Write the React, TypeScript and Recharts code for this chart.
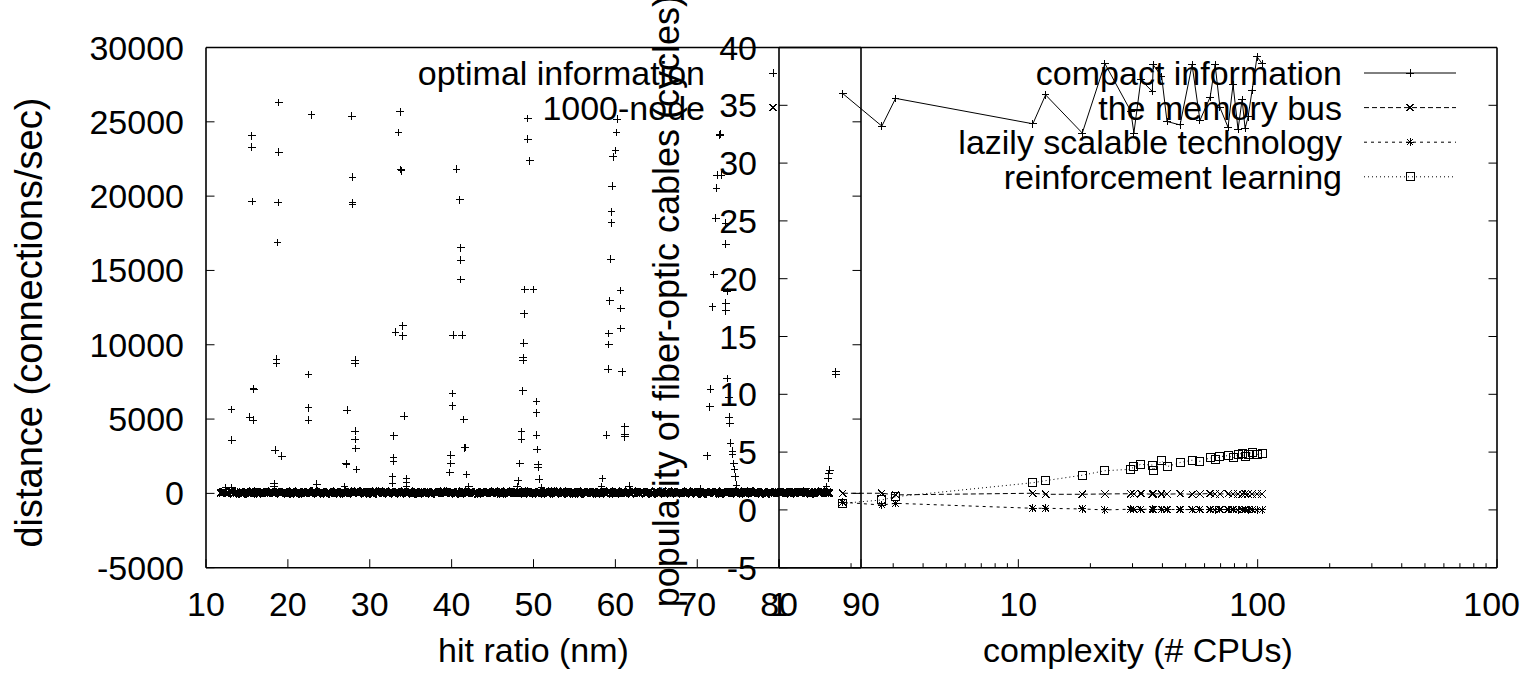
import React from 'react';
import { ComposedChart, Scatter, Line, XAxis, YAxis, Legend, Label } from 'recharts';

const W = 1522;
const H = 675;
const FONT = '"Liberation Sans", Arial, Helvetica, sans-serif';
const FS = 34;

// ---------- left plot data ----------
const leftSeriesNames = ['optimal information', '1000-node'];
const leftXLabel = 'hit ratio (nm)';
const leftYLabel = 'distance (connections/sec)';
const leftXTicks = [10, 20, 30, 40, 50, 60, 70, 80, 90];
const leftYTicks = [-5000, 0, 5000, 10000, 15000, 20000, 25000, 30000];

const optX = [
  18.9, 22.9, 27.8, 33.7, 15.6, 15.6, 18.9, 33.5, 33.8, 33.9, 27.9, 15.65, 18.8, 27.9, 27.9, 18.75,
  34.05, 33.16, 34.05, 18.6, 18.6, 28.2, 28.2, 22.54, 15.78, 15.85, 13.1, 15.34, 15.82, 22.5, 22.5,
  27.25, 34.2, 13.14, 28.23, 28.23, 28.3, 32.95, 18.46, 19.28, 27.1, 27.15, 28.4, 32.9, 32.9, 32.8,
  32.8, 34.5, 34.5, 34.5, 18.34, 18.34, 23.55, 12.44, 13.17, 26.93,
  40.6, 41.0, 41.13, 41.13, 41.13, 40.2, 41.3, 40.12, 40.12, 41.5, 41.62, 41.66, 39.91, 39.91, 39.79,
  41.83, 42.1, 49.3, 49.3, 49.56, 48.95, 50.0, 48.86, 48.83, 48.74, 48.74, 48.7, 50.38, 50.38, 48.55,
  48.55, 50.38, 50.45, 48.34, 50.57, 50.57, 50.7, 48.13, 48.0, 51.0,
  60.2, 60.15, 60.02, 59.73, 59.61, 59.54, 59.54, 59.45, 60.63, 59.33, 60.67, 60.67, 59.21, 59.21,
  59.12, 60.83, 58.93, 61.16, 61.16, 61.16, 58.44, 58.32, 61.68,
  72.76, 72.8, 72.43, 72.97, 72.36, 72.27, 73.49, 73.49, 72.03, 73.65, 71.87, 73.49, 73.49, 71.62,
  73.65, 73.9, 71.54, 73.9, 73.98, 71.21, 74.06, 74.31, 74.31, 74.47, 74.55, 74.63, 74.8, 70.4,
  85.79, 85.98, 86.07, 86.2, 86.92, 86.92,
];
const optY = [
  26300, 25460, 25390, 25680, 24050, 23290, 22950, 24270, 21800, 21700, 21270, 19630, 19580, 19560, 19450, 16870,
  11280, 10840, 10590, 9040, 8750, 8970, 8750, 8010, 7070, 7000, 5650, 5120, 4930, 5760, 4930,
  5610, 5200, 3590, 4190, 3630, 3030, 3880, 2910, 2510, 2020, 1950, 1620, 2420, 2170, 1120,
  670, 1010, 710, 490, 670, 440, 630, 380, 380, 440,
  21810, 19740, 16530, 15700, 14400, 10650, 10650, 6730, 5880, 4980, 3070, 3100, 2580, 2020, 1410,
  1280, 440, 25210, 23840, 22380, 13730, 13730, 12070, 10100, 9130, 8970, 6890, 6170, 5420, 4150,
  3650, 3920, 2960, 2020, 1910, 1750, 960, 850, 440, 380,
  25170, 24270, 23060, 22650, 20680, 18950, 18210, 15750, 13640, 12960, 12450, 11100, 10770, 10030,
  8350, 8180, 3920, 4480, 3990, 3810, 1010, 440, 490,
  24110, 24160, 21420, 21420, 20530, 18510, 18190, 16760, 14740, 13570, 12560, 12790, 12290, 7020,
  7740, 6460, 5830, 5120, 4710, 2530, 3370, 2850, 2630, 2020, 1620, 1120, 560, 340,
  440, 1010, 1350, 1570, 8180, 8030,
];

const nodeX = [
  11.8, 12.2, 12.5, 13.0, 13.4, 13.7, 14.2, 14.6, 15.0, 15.5, 15.8, 16.3, 16.7, 17.1, 17.6, 18.0, 18.4, 18.9, 19.2, 19.7,
  20.1, 20.6, 21.0, 21.4, 21.9, 22.2, 22.7, 23.1, 23.6, 24.0, 24.4, 24.9, 25.2, 25.7, 26.1, 26.6, 27.0, 27.4, 27.9, 28.2,
  28.7, 29.1, 29.6, 30.0, 30.4, 30.9, 31.2, 31.7, 32.1, 32.6, 33.0, 33.4, 33.9, 34.2, 34.7, 35.1, 35.6, 36.0, 36.4, 36.9,
  37.2, 37.7, 38.1, 38.6, 39.0, 39.4, 39.9, 40.2, 40.7, 41.1, 41.6, 42.0, 42.4, 42.9, 43.2, 43.7, 44.1, 44.6, 45.0, 45.4,
  45.9, 46.2, 46.7, 47.1, 47.6, 48.0, 48.4, 48.9, 49.2, 49.7, 50.1, 50.6, 51.0, 51.4, 51.9, 52.2, 52.7, 53.1, 53.6, 54.0,
  54.4, 54.9, 55.2, 55.7, 56.1, 56.6, 57.0, 57.4, 57.9, 58.2, 58.7, 59.1, 59.6, 60.0, 60.4, 60.9, 61.2, 61.7, 62.1, 62.6,
  63.0, 63.4, 63.9, 64.2, 64.7, 65.1, 65.6, 66.0, 66.4, 66.9, 67.2, 67.7, 68.1, 68.6, 69.0, 69.4, 69.9, 70.2, 70.7, 71.1,
  71.6, 72.0, 72.4, 72.9, 73.2, 73.7, 74.1, 74.6, 75.0, 75.4, 75.9, 76.2, 76.7, 77.1, 77.6, 78.0, 78.4, 78.9, 79.2, 79.7,
  80.1, 80.6, 81.0, 81.4, 81.9, 82.2, 82.7, 83.1, 83.6, 84.0, 84.4, 84.9, 85.2, 85.7, 86.1,
  12.0, 12.7, 13.2, 13.9, 14.4, 14.8, 15.3, 15.6, 16.0, 16.5, 16.9, 17.4, 17.8, 18.2, 18.7, 19.0, 19.5, 19.9, 20.3, 20.8,
  21.2, 21.7, 22.0, 22.5, 22.9, 23.3, 23.8, 24.2, 24.7, 25.0, 25.5, 25.9, 26.3, 26.8, 27.2, 27.7, 28.0, 28.5, 28.9, 29.3,
  29.8, 30.2, 30.7, 31.0, 31.5, 31.9, 32.3, 32.8, 33.2, 33.7, 34.0, 34.5, 34.9, 35.3, 35.8, 36.2, 36.7, 37.0, 37.5, 37.9,
  38.3, 38.8, 39.2, 39.7, 40.0, 40.5, 40.9, 41.3, 41.8, 42.2, 42.7, 43.0, 43.5, 43.9, 44.3, 44.8, 45.2, 45.7, 46.0, 46.5,
  46.9, 47.3, 47.8, 48.2, 48.7, 49.0, 49.5, 49.9, 50.3, 50.8, 51.2, 51.7, 52.0, 52.5, 52.9, 53.3, 53.8, 54.2, 54.7, 55.0,
  55.5, 55.9, 56.3, 56.8, 57.2, 57.7, 58.0, 58.5, 58.9, 59.3, 59.8, 60.2, 60.7, 61.0, 61.5, 61.9, 62.3, 62.8, 63.2, 63.7,
  64.0, 64.5, 64.9, 65.3, 65.8, 66.2, 66.7, 67.0, 67.5, 67.9, 68.3, 68.8, 69.2, 69.7, 70.0, 70.5, 70.9, 71.3, 71.8, 72.2,
  72.7, 73.0, 73.5, 73.9, 74.3, 74.8, 75.2, 75.7, 76.0, 76.5, 76.9, 77.3, 77.8, 78.2, 78.7, 79.0, 79.5, 79.9, 80.3, 80.8,
  81.2, 81.7, 82.0, 82.5, 82.9, 83.3, 83.8, 84.2, 84.7, 85.0, 85.5, 85.9,
];
const nodeY = [
  40, 85, 12, 110, -20, 60, 95, 5, 130, 30, 70, -35, 100, 45, 15, 120, -10, 75, 55, 90,
  20, 135, -25, 65, 105, 0, 50, 115, -30, 80, 35, 125, 10, 60, -15, 95, 40, 140, 25, 70,
  -5, 110, 55, 85, -40, 30, 120, 65, 15, 100, -20, 75, 45, 130, 5, 90, 35, -30, 115, 60,
  25, 95, -10, 70, 135, 40, 0, 105, 55, -25, 85, 20, 125, 65, -35, 110, 30, 75, 10, 100,
  50, -15, 120, 35, 90, -5, 70, 130, 15, 60, 105, -30, 45, 85, 25, 115, -20, 65, 140, 40,
  5, 95, 55, -35, 110, 30, 75, 125, -10, 60, 20, 100, 45, -25, 85, 135, 10, 70, 115, 35,
  -15, 90, 50, 130, 0, 65, 105, -30, 40, 80, 120, 15, 55, -5, 95, 70, 25, 110, -40, 60,
  85, 30, 125, -20, 75, 45, 100, 10, 135, 55, -10, 90, 35, 115, 20, 65, -35, 105, 50, 80,
  0, 120, 40, -25, 95, 60, 15, 110, 70, -5, 85, 30, 130, 45, 20,
  70, 10, 115, 50, -30, 90, 25, 135, 60, -10, 105, 35, 80, 0, 125, 45, 95, -25, 65, 20,
  110, 55, -5, 85, 30, 140, 15, 75, -40, 100, 50, 120, -15, 70, 30, 95, 5, 130, 60, -20,
  85, 40, 115, 10, 70, 135, -30, 55, 100, 25, 80, -10, 125, 45, 0, 90, 60, 110, -35, 75,
  35, 120, 15, 65, 100, -20, 50, 130, 5, 80, 40, 115, -5, 70, 95, 20, 140, 55, -30, 85,
  10, 105, 45, 0, 125, 65, -15, 90, 30, 110, 75, -40, 55, 135, 15, 95, 40, -25, 120, 60,
  -10, 85, 25, 115, 50, 0, 100, 70, -30, 130, 35, 90, 10, 60, 120, -20, 80, 45, 105, 5,
  65, -35, 95, 30, 140, 55, 15, 110, -15, 75, 40, 125, 0, 90, 60, -25, 100, 20, 130, 50,
  -5, 85, 35, 115, 70, -40, 95, 10, 60, 135, 25, 80, -20, 105, 45, 0, 120, 65, 30, 90,
  -10, 110, 55, 15, 75, 130, -30, 40, 95, 5, 85, 60,
];

// ---------- right plot data ----------
const rightSeriesNames = ['compact information', 'the memory bus', 'lazily scalable technology', 'reinforcement learning'];
const rightXLabel = 'complexity (# CPUs)';
const rightYLabel = 'popularity of fiber-optic cables (cycles)';
const rightYTicks = [-5, 0, 5, 10, 15, 20, 25, 30, 35, 40];
const rightXMajor = [1, 10, 100, 1000];
const rightXMajorLabels = ['1', '10', '100', '100'];
const rightXMinor = [2, 3, 4, 5, 6, 7, 8, 9, 20, 30, 40, 50, 60, 70, 80, 90, 200, 300, 400, 500, 600, 700, 800, 900];

const cpuX = [1.85, 2.69, 3.07, 11.5, 13.0, 18.5, 23.0, 29.5, 30.4, 32.5, 36.3, 36.6, 39.7, 41.8, 47.4, 53.2, 57.4, 63.3, 66.4, 69.6, 75.2, 78.9, 82.8, 86.1, 88.6, 91.2, 94.8, 99.4, 104.3];
const compactY = [36.0, 33.2, 35.6, 33.4, 35.9, 32.6, 38.6, 34.5, 32.6, 37.2, 36.2, 38.5, 37.5, 33.6, 33.3, 38.5, 33.7, 35.7, 38.5, 34.8, 33.1, 36.8, 32.9, 35.5, 33.0, 34.0, 36.3, 39.2, 38.6];
const busY = [1.44, 1.44, 1.3, 1.44, 1.35, 1.35, 1.38, 1.4, 1.38, 1.42, 1.35, 1.4, 1.38, 1.36, 1.4, 1.35, 1.38, 1.42, 1.36, 1.38, 1.4, 1.36, 1.38, 1.35, 1.4, 1.37, 1.38, 1.36, 1.38];
const lazyY = [0.66, 0.42, 0.57, 0.14, 0.14, 0.08, 0.0, 0.06, 0.05, 0.04, 0.06, 0.02, 0.05, 0.03, 0.04, 0.02, 0.05, 0.03, 0.0, 0.04, 0.02, 0.03, 0.0, 0.02, 0.04, 0.01, 0.02, 0.0, 0.01];
const rlY = [0.57, 0.86, 1.14, 2.35, 2.53, 3.0, 3.39, 3.51, 3.74, 3.94, 3.88, 3.45, 4.26, 3.74, 4.1, 4.3, 4.2, 4.5, 4.4, 4.6, 4.7, 4.5, 4.8, 4.9, 4.6, 4.8, 5.0, 4.8, 4.9];

// ---------- built tables ----------
const optData = optX.map((x, i) => ({ x, y: optY[i] }));
const nodeData = nodeX.map((x, i) => ({ x, y: nodeY[i] }));
const rightData = cpuX.map((x, i) => ({ x, compact: compactY[i], bus: busY[i], lazy: lazyY[i], rl: rlY[i] }));

// ---------- layout ----------
const PLOT_TOP = 47.5;
const PLOT_BOTTOM = 567.7;
const L_LEFT = 206;
const L_RIGHT = 861;
const R_LEFT = 779;
const R_RIGHT = 1497;
const MAJOR = 8.5;
const MINOR = 4.5;
const BORDER = { stroke: '#000', strokeWidth: 1.6 };

// ---------- markers ----------
type M = { cx: number; cy: number; sw?: number };
const PlusMark = ({ cx, cy, sw = 1 }: M) => (
  <path d={`M${cx - 3.8},${cy}H${cx + 3.8}M${cx},${cy - 3.8}V${cy + 3.8}`} stroke="#000" strokeWidth={sw} fill="none" shapeRendering="crispEdges" />
);
const CrossMark = ({ cx, cy, sw = 1 }: M) => (
  <path d={`M${cx - 3.6},${cy - 3.6}L${cx + 3.6},${cy + 3.6}M${cx - 3.6},${cy + 3.6}L${cx + 3.6},${cy - 3.6}`} stroke="#000" strokeWidth={sw} fill="none" shapeRendering="crispEdges" />
);
const StarMark = ({ cx, cy, sw = 1 }: M) => (
  <path d={`M${cx - 3.8},${cy}H${cx + 3.8}M${cx},${cy - 3.8}V${cy + 3.8}M${cx - 3.4},${cy - 3.4}L${cx + 3.4},${cy + 3.4}M${cx - 3.4},${cy + 3.4}L${cx + 3.4},${cy - 3.4}`} stroke="#000" strokeWidth={sw} fill="none" shapeRendering="crispEdges" />
);
const SquareMark = ({ cx, cy, sw = 1 }: M) => (
  <rect x={cx - 4} y={cy - 4} width={8} height={8} stroke="#000" strokeWidth={sw} fill="none" shapeRendering="crispEdges" />
);
const markerFor: Record<string, (p: M) => React.ReactElement> = {
  'optimal information': PlusMark,
  '1000-node': CrossMark,
  'compact information': PlusMark,
  'the memory bus': CrossMark,
  'lazily scalable technology': StarMark,
  'reinforcement learning': SquareMark,
};
const dashFor: Record<string, string | undefined> = {
  'compact information': undefined,
  'the memory bus': '5 3',
  'lazily scalable technology': '3 4',
  'reinforcement learning': '1 3',
};

// ---------- ticks ----------
const makeXTick = (side: 'top' | 'bottom', labelOf: (v: number) => string | null, isMinor: (v: number) => boolean) =>
  (props: any) => {
    const { x, y, payload, index } = props;
    const v = payload.value;
    const minor = isMinor(v);
    const len = minor ? MINOR : MAJOR;
    const dir = side === 'bottom' ? -1 : 1;
    const lab = side === 'bottom' && !minor ? labelOf(v) : null;
    let tx = x;
    let anchor: 'middle' | 'end' = 'middle';
    if (lab) {
      const half = (lab.length * 0.556 * FS) / 2;
      if (x + half > W - 2) {
        tx = W - 2;
        anchor = 'end';
      }
    }
    return (
      <g key={`xt-${side}-${index}`}>
        <line x1={x} y1={y} x2={x} y2={y + dir * len} stroke="#000" strokeWidth={1} />
        {lab !== null && (
          <text x={tx} y={y + 48} textAnchor={anchor} fontFamily={FONT} fontSize={FS} fill="#000">
            {lab}
          </text>
        )}
      </g>
    );
  };

const makeYTick = (side: 'left' | 'right', showLabel: boolean) => (props: any) => {
  const { x, y, payload, index } = props;
  const dir = side === 'left' ? 1 : -1;
  return (
    <g key={`yt-${side}-${index}`}>
      <line x1={x} y1={y} x2={x + dir * MAJOR} y2={y} stroke="#000" strokeWidth={1} />
      {showLabel && (
        <text x={x - 22} y={y + 12} textAnchor="end" fontFamily={FONT} fontSize={FS} fill="#000">
          {String(payload.value)}
        </text>
      )}
    </g>
  );
};

const xLabelContent = (text: string) => (props: any) => {
  const vb = props.viewBox || {};
  return (
    <text x={vb.x + vb.width / 2} y={vb.y + 94.5} textAnchor="middle" fontFamily={FONT} fontSize={FS} fill="#000">
      {text}
    </text>
  );
};
// rotated axis title; dy shifts it from the axis' vertical centre
const yLabelContent = (text: string, cx: number, dy: number, fs: number) => (props: any) => {
  const vb = props.viewBox || {};
  const cy = vb.y + vb.height / 2 + dy;
  return (
    <text
      x={cx}
      y={cy}
      transform={`rotate(-90, ${cx}, ${cy})`}
      textAnchor="middle"
      dominantBaseline="central"
      fontFamily={FONT}
      fontSize={fs}
      fill="#000"
    >
      {text}
    </text>
  );
};

// ---------- legends ----------
const LEG_ROW0 = 73;
const LEG_STEP = 34.6;
const makeLegend = (order: string[], textRight: number, sampleX0: number, sampleX1: number, withLine: boolean) => (props: any) => {
  const payload: any[] = [...(props.payload || [])].sort(
    (a, b) => order.indexOf(String(a.value)) - order.indexOf(String(b.value)),
  );
  const mid = (sampleX0 + sampleX1) / 2;
  return (
    <svg width={W} height={H} style={{ display: 'block', overflow: 'visible' }}>
      {payload.map((p, i) => {
        const name = String(p.value);
        const cy = LEG_ROW0 + i * LEG_STEP;
        const Mk = markerFor[name] || PlusMark;
        return (
          <g key={name}>
            <text x={textRight} y={cy} textAnchor="end" dominantBaseline="central" fontFamily={FONT} fontSize={FS} fill="#000">
              {name}
            </text>
            {withLine && (
              <line x1={sampleX0} y1={cy} x2={sampleX1} y2={cy} stroke="#000" strokeWidth={1} strokeDasharray={dashFor[name]} />
            )}
            <Mk cx={mid} cy={cy} />
          </g>
        );
      })}
    </svg>
  );
};

const legendWrap = { left: 0, top: 0, width: W, height: H, pointerEvents: 'none' as const };

export default function App() {
  const leftLabelOf = (v: number) => String(v);
  const rightLabelOf = (v: number) => {
    const i = rightXMajor.indexOf(v);
    return i >= 0 ? rightXMajorLabels[i] : null;
  };
  const rightMinorSet = new Set(rightXMinor);
  const rightAllTicks = [...rightXMajor, ...rightXMinor].sort((a, b) => a - b);

  return (
    <div style={{ position: 'absolute', left: 0, top: 0, width: W, height: H, background: '#fff', overflow: 'hidden' }}>
      {/* left plot */}
      <div style={{ position: 'absolute', left: 0, top: 0 }}>
        <ComposedChart width={W} height={H} margin={{ top: 0, right: 0, bottom: 0, left: 0 }}>
          <XAxis
            xAxisId="lb"
            type="number"
            dataKey="x"
            domain={[10, 90]}
            ticks={leftXTicks}
            interval={0}
            orientation="bottom"
            height={H - PLOT_BOTTOM}
            tickSize={0}
            tickMargin={0}
            tickLine={false}
            axisLine={BORDER}
            allowDataOverflow
            tick={makeXTick('bottom', leftLabelOf, () => false)}
          >
            <Label content={xLabelContent(leftXLabel)} />
          </XAxis>
          <XAxis
            xAxisId="lt"
            type="number"
            domain={[10, 90]}
            ticks={leftXTicks}
            interval={0}
            orientation="top"
            height={PLOT_TOP}
            tickSize={0}
            tickMargin={0}
            tickLine={false}
            axisLine={BORDER}
            allowDataOverflow
            tick={makeXTick('top', leftLabelOf, () => false)}
          />
          <YAxis
            yAxisId="ll"
            type="number"
            dataKey="y"
            domain={[-5000, 30000]}
            ticks={leftYTicks}
            interval={0}
            orientation="left"
            width={L_LEFT}
            tickSize={0}
            tickMargin={0}
            tickLine={false}
            axisLine={BORDER}
            allowDataOverflow
            tick={makeYTick('left', true)}
          >
            <Label content={yLabelContent(leftYLabel, 29, 15, 38)} />
          </YAxis>
          <YAxis
            yAxisId="lr"
            type="number"
            domain={[-5000, 30000]}
            ticks={leftYTicks}
            interval={0}
            orientation="right"
            width={W - L_RIGHT}
            tickSize={0}
            tickMargin={0}
            tickLine={false}
            axisLine={BORDER}
            allowDataOverflow
            tick={makeYTick('right', false)}
          />
          <Scatter
            name={leftSeriesNames[0]}
            data={optData}
            xAxisId="lb"
            yAxisId="ll"
            isAnimationActive={false}
            shape={(p: any) => <PlusMark cx={p.cx} cy={p.cy} />}
          />
          <Scatter
            name={leftSeriesNames[1]}
            data={nodeData}
            xAxisId="lb"
            yAxisId="ll"
            isAnimationActive={false}
            shape={(p: any) => <CrossMark cx={p.cx} cy={p.cy} sw={2} />}
          />
          <Legend
            layout="vertical"
            align="center"
            verticalAlign="middle"
            wrapperStyle={legendWrap}
            content={makeLegend(leftSeriesNames, 705, 727, 819, false)}
          />
        </ComposedChart>
      </div>

      {/* right plot */}
      <div style={{ position: 'absolute', left: 0, top: 0 }}>
        <ComposedChart width={W} height={H} data={rightData} margin={{ top: 0, right: 0, bottom: 0, left: 0 }}>
          <XAxis
            xAxisId="rb"
            type="number"
            dataKey="x"
            scale="log"
            domain={[1, 1000]}
            ticks={rightAllTicks}
            interval={0}
            orientation="bottom"
            height={H - PLOT_BOTTOM}
            tickSize={0}
            tickMargin={0}
            tickLine={false}
            axisLine={BORDER}
            allowDataOverflow
            tick={makeXTick('bottom', rightLabelOf, (v) => rightMinorSet.has(v))}
          >
            <Label content={xLabelContent(rightXLabel)} />
          </XAxis>
          <XAxis
            xAxisId="rt"
            type="number"
            scale="log"
            domain={[1, 1000]}
            ticks={rightAllTicks}
            interval={0}
            orientation="top"
            height={PLOT_TOP}
            tickSize={0}
            tickMargin={0}
            tickLine={false}
            axisLine={BORDER}
            allowDataOverflow
            tick={makeXTick('top', rightLabelOf, (v) => rightMinorSet.has(v))}
          />
          <YAxis
            yAxisId="rl"
            type="number"
            domain={[-5, 40]}
            ticks={rightYTicks}
            interval={0}
            orientation="left"
            width={R_LEFT}
            tickSize={0}
            tickMargin={0}
            tickLine={false}
            axisLine={BORDER}
            allowDataOverflow
            tick={makeYTick('left', true)}
          >
            <Label content={yLabelContent(rightYLabel, 667, -6.5, 36)} />
          </YAxis>
          <YAxis
            yAxisId="rr"
            type="number"
            domain={[-5, 40]}
            ticks={rightYTicks}
            interval={0}
            orientation="right"
            width={W - R_RIGHT}
            tickSize={0}
            tickMargin={0}
            tickLine={false}
            axisLine={BORDER}
            allowDataOverflow
            tick={makeYTick('right', false)}
          />
          <Line
            name={rightSeriesNames[0]}
            dataKey="compact"
            xAxisId="rb"
            yAxisId="rl"
            type="linear"
            stroke="#000"
            strokeWidth={1}
            isAnimationActive={false}
            activeDot={false}
            dot={(p: any) => <PlusMark key={`c${p.index}`} cx={p.cx} cy={p.cy} />}
          />
          <Line
            name={rightSeriesNames[1]}
            dataKey="bus"
            xAxisId="rb"
            yAxisId="rl"
            type="linear"
            stroke="#000"
            strokeWidth={1}
            strokeDasharray={dashFor[rightSeriesNames[1]]}
            isAnimationActive={false}
            activeDot={false}
            dot={(p: any) => <CrossMark key={`b${p.index}`} cx={p.cx} cy={p.cy} />}
          />
          <Line
            name={rightSeriesNames[2]}
            dataKey="lazy"
            xAxisId="rb"
            yAxisId="rl"
            type="linear"
            stroke="#000"
            strokeWidth={1}
            strokeDasharray={dashFor[rightSeriesNames[2]]}
            isAnimationActive={false}
            activeDot={false}
            dot={(p: any) => <StarMark key={`l${p.index}`} cx={p.cx} cy={p.cy} />}
          />
          <Line
            name={rightSeriesNames[3]}
            dataKey="rl"
            xAxisId="rb"
            yAxisId="rl"
            type="linear"
            stroke="#000"
            strokeWidth={1}
            strokeDasharray={dashFor[rightSeriesNames[3]]}
            isAnimationActive={false}
            activeDot={false}
            dot={(p: any) => <SquareMark key={`r${p.index}`} cx={p.cx} cy={p.cy} />}
          />
          <Legend
            layout="vertical"
            align="center"
            verticalAlign="middle"
            wrapperStyle={legendWrap}
            content={makeLegend(rightSeriesNames, 1342, 1364, 1456, true)}
          />
        </ComposedChart>
      </div>
    </div>
  );
}
